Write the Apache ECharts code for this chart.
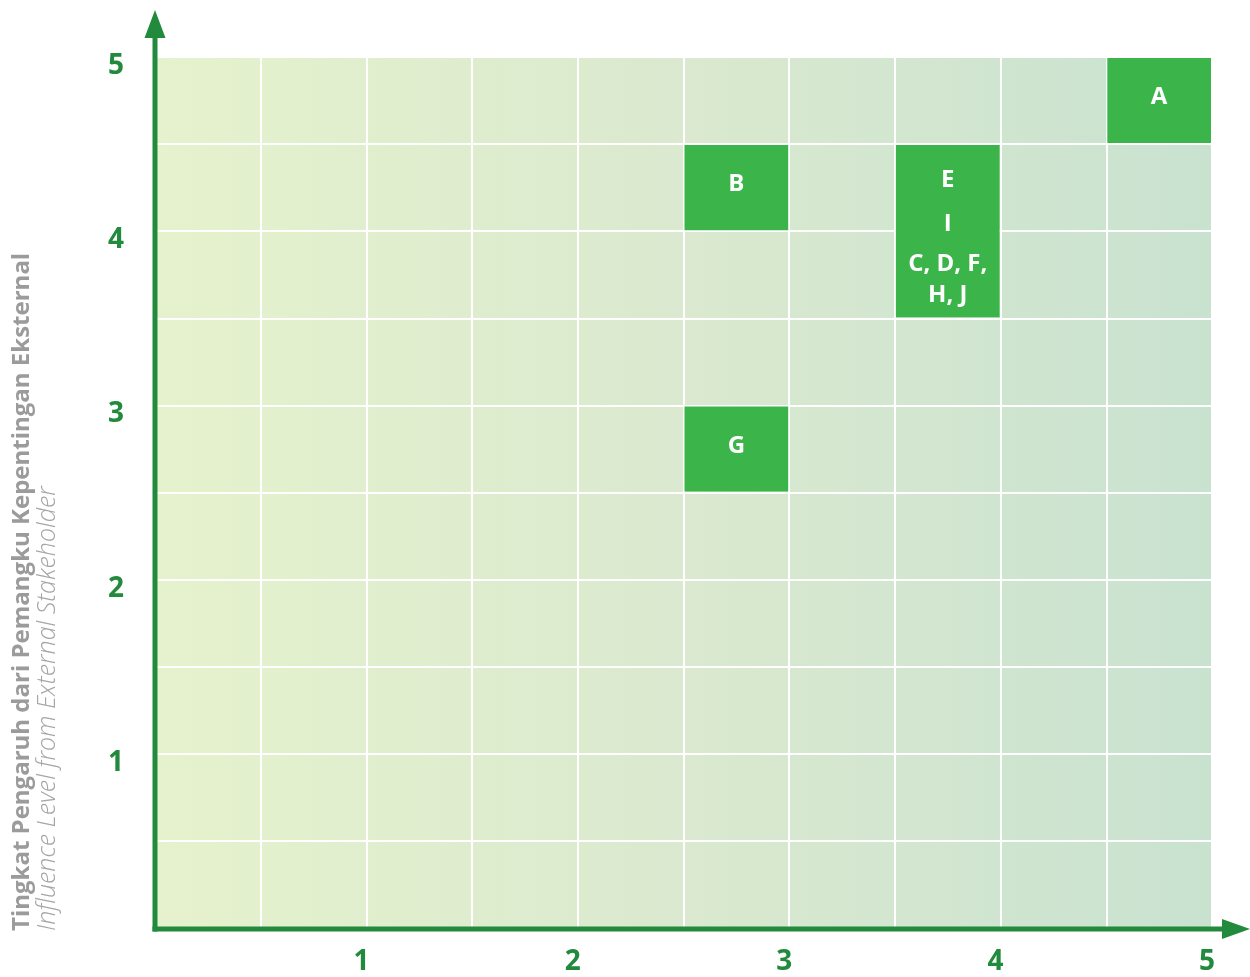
<!DOCTYPE html>
<html>
<head>
<meta charset="utf-8">
<script src="https://cdn.jsdelivr.net/npm/echarts@6/dist/echarts.min.js"></script>
<style>
html,body{margin:0;padding:0;background:#fff;}
#c{width:1250px;height:977px;}
</style>
</head>
<body>
<div id="c"></div>
<script>
// ---- data ----
const xTickLabels = ['1', '2', '3', '4', '5'];
const yTickLabels = ['1', '2', '3', '4', '5'];
const boxNames = ['A', 'B', 'G', 'EICDFHJ'];
const boxXStart = [4.5, 2.5, 2.5, 3.5];
const boxXEnd   = [5.0, 3.0, 3.0, 4.0];
const boxYStart = [4.5, 4.0, 2.5, 3.5];
const boxYEnd   = [5.0, 4.5, 3.0, 4.5];
const boxText = [
  '{m|A}',
  '{m|B}',
  '{m|G}',
  '{a|E}\n{b|I}\n{c|C, D, F,}\n{c|H, J}'
];
const yTitleMain = 'Tingkat Pengaruh dari Pemangku Kepentingan Eksternal';
const yTitleSub = 'Influence Level from External Stakeholder';

const AXIS_GREEN = '#218a3c';
const BOX_GREEN = '#3bb54a';
const FONT = "'Open Sans', 'Noto Sans', sans-serif";

const boxData = boxNames.map((n, i) => [boxXStart[i], boxYStart[i], boxXEnd[i], boxYEnd[i], i]);

const chart = echarts.init(document.getElementById('c'), null, {renderer: 'canvas'});

const labelStyle = {
  m: {fontSize: 24, fontWeight: 'bold', fill: '#fff', fontFamily: FONT},
  a: {fontSize: 24, fontWeight: 'bold', fill: '#fff', fontFamily: FONT, lineHeight: 40},
  b: {fontSize: 24, fontWeight: 'bold', fill: '#fff', fontFamily: FONT, lineHeight: 48},
  c: {fontSize: 24, fontWeight: 'bold', fill: '#fff', fontFamily: FONT, lineHeight: 31}
};

const option = {
  animation: false,
  backgroundColor: '#ffffff',
  grid: {
    left: 155, right: 38, top: 57, bottom: 49,
    show: true,
    borderWidth: 0,
    backgroundColor: {
      type: 'linear', x: 0, y: 0, x2: 1, y2: 0,
      colorStops: [
        {offset: 0, color: '#e6f2cd'},
        {offset: 0.5, color: '#dae9cf'},
        {offset: 1, color: '#c9e2d0'}
      ]
    }
  },
  xAxis: {
    type: 'value', min: 0, max: 5, interval: 0.5,
    axisLine: {show: false},
    axisTick: {show: false},
    splitLine: {show: true, lineStyle: {color: '#ffffff', width: 2}},
    axisLabel: {
      show: true, margin: 20,
      color: AXIS_GREEN, fontSize: 28, fontWeight: 'bold', fontFamily: FONT,
      padding: [0, 10, 0, 0],
      formatter: function (v) {
        return (Number.isInteger(v) && v > 0) ? xTickLabels[v - 1] : '';
      }
    }
  },
  yAxis: {
    type: 'value', min: 0, max: 5, interval: 0.5,
    axisLine: {show: false},
    axisTick: {show: false},
    splitLine: {show: true, lineStyle: {color: '#ffffff', width: 2}},
    axisLabel: {
      show: true, margin: 31,
      color: AXIS_GREEN, fontSize: 28, fontWeight: 'bold', fontFamily: FONT,
      formatter: function (v) {
        return (Number.isInteger(v) && v > 0) ? '{t|' + yTickLabels[v - 1] + '}' : '';
      },
      rich: {
        t: {color: AXIS_GREEN, fontSize: 28, fontWeight: 'bold', fontFamily: FONT, padding: [18, 0, 0, 0]}
      }
    }
  },
  series: [{
    type: 'custom',
    data: boxData,
    renderItem: function (params, api) {
      const p0 = api.coord([api.value(0), api.value(1)]);
      const p1 = api.coord([api.value(2), api.value(3)]);
      const idx = api.value(4);
      const x = Math.min(p0[0], p1[0]) + 1;
      const y = Math.min(p0[1], p1[1]) + 1;
      const w = Math.abs(p1[0] - p0[0]) - 2;
      const h = Math.abs(p1[1] - p0[1]) - 2;
      const dy = idx === 3 ? 4 : -3;
      return {
        type: 'group',
        children: [
          {type: 'rect', shape: {x: x, y: y, width: w, height: h}, style: {fill: BOX_GREEN}},
          {type: 'text', x: x + w / 2, y: y + h / 2 + dy,
            style: {text: boxText[idx], align: 'center', verticalAlign: 'middle', fill: '#fff', rich: labelStyle}}
        ]
      };
    }
  }]
};

chart.setOption(option);

// axis arrows, anchored on the axis origin from the scales
const o = chart.convertToPixel({gridIndex: 0}, [0, 0]);
const W = chart.getWidth();
const ax = o[0];             // y-axis centre x
const ay = o[1] + 1;         // x-axis centre y
chart.setOption({
  graphic: [
    {type: 'line', shape: {x1: ax - 2.5, y1: ay, x2: W - 26, y2: ay},
      style: {stroke: AXIS_GREEN, lineWidth: 5}, z: 100},
    {type: 'polygon', shape: {points: [[W - 28, ay - 10], [W, ay], [W - 28, ay + 10]]},
      style: {fill: AXIS_GREEN}, z: 100},
    {type: 'line', shape: {x1: ax, y1: ay + 2.5, x2: ax, y2: 36},
      style: {stroke: AXIS_GREEN, lineWidth: 5}, z: 100},
    {type: 'polygon', shape: {points: [[ax - 10.5, 38], [ax, 10], [ax + 10.5, 38]]},
      style: {fill: AXIS_GREEN}, z: 100},
    {type: 'text', x: 22, y: 931, rotation: Math.PI / 2,
      style: {text: yTitleMain, fill: '#9b9b9b', fontSize: 24, fontWeight: 'bold', fontFamily: FONT,
        align: 'left', verticalAlign: 'middle'}},
    {type: 'text', x: 48, y: 931, rotation: Math.PI / 2,
      style: {text: yTitleSub, fill: '#a5a5a5', fontSize: 25, fontWeight: 300, fontStyle: 'italic', fontFamily: FONT,
        align: 'left', verticalAlign: 'middle'}}
  ]
});
</script>
</body>
</html>
